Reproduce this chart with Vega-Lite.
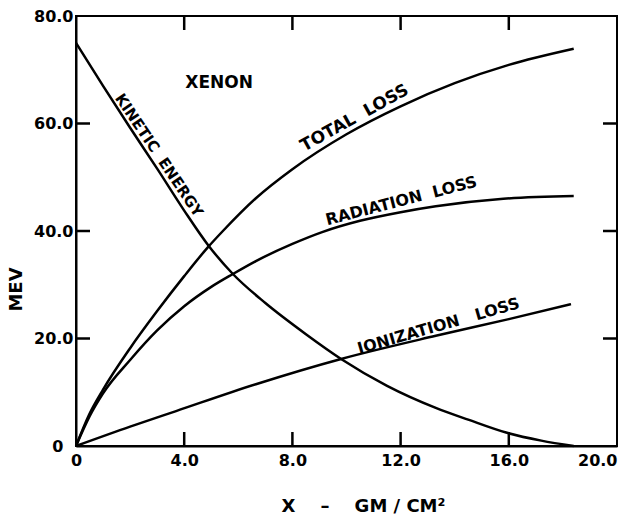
{
  "$schema": "https://vega.github.io/schema/vega-lite/v6.json",
  "autosize": {"type": "none"},
  "padding": {"left": 76, "top": 16, "right": 10, "bottom": 75},
  "width": 541,
  "height": 430,
  "background": "white",
  "config": {
    "view": {"stroke": "black", "strokeWidth": 2},
    "font": "DejaVu Sans",
    "axis": {
      "domainColor": "black", "domainWidth": 2, "tickColor": "black", "tickWidth": 2,
      "labelColor": "black", "labelFont": "DejaVu Sans", "labelFontWeight": "bold", "labelFontSize": 16,
      "titleColor": "black", "titleFont": "DejaVu Sans", "titleFontWeight": "bold", "titleFontSize": 17,
      "grid": false
    }
  },
  "datasets": {
    "curves": [
      {"series": "kinetic", "x": 0, "y": 75}, {"series": "kinetic", "x": 1, "y": 67}, {"series": "kinetic", "x": 2, "y": 59.2},
      {"series": "kinetic", "x": 3, "y": 51.6}, {"series": "kinetic", "x": 4, "y": 43.8}, {"series": "kinetic", "x": 4.88, "y": 37.4},
      {"series": "kinetic", "x": 5.8, "y": 32}, {"series": "kinetic", "x": 7, "y": 26.6}, {"series": "kinetic", "x": 8.5, "y": 20.8},
      {"series": "kinetic", "x": 9.8, "y": 16.2}, {"series": "kinetic", "x": 11.5, "y": 11.2}, {"series": "kinetic", "x": 13.3, "y": 7.1},
      {"series": "kinetic", "x": 14.5, "y": 4.9}, {"series": "kinetic", "x": 15.9, "y": 2.5}, {"series": "kinetic", "x": 17.2, "y": 1.0},
      {"series": "kinetic", "x": 18.4, "y": 0},
      {"series": "total", "x": 0, "y": 0}, {"series": "total", "x": 0.5, "y": 6}, {"series": "total", "x": 1, "y": 10.5},
      {"series": "total", "x": 2, "y": 18.2}, {"series": "total", "x": 3, "y": 25.1}, {"series": "total", "x": 4, "y": 31.6},
      {"series": "total", "x": 4.88, "y": 37}, {"series": "total", "x": 5.43, "y": 40}, {"series": "total", "x": 6.65, "y": 46.1},
      {"series": "total", "x": 8, "y": 51.5}, {"series": "total", "x": 10, "y": 58}, {"series": "total", "x": 12, "y": 63.2},
      {"series": "total", "x": 14, "y": 67.5}, {"series": "total", "x": 16, "y": 70.9}, {"series": "total", "x": 18.4, "y": 73.9},
      {"series": "radiation", "x": 0, "y": 0}, {"series": "radiation", "x": 0.5, "y": 5.5}, {"series": "radiation", "x": 1, "y": 9.8},
      {"series": "radiation", "x": 2, "y": 16}, {"series": "radiation", "x": 3, "y": 21.5}, {"series": "radiation", "x": 4, "y": 26},
      {"series": "radiation", "x": 5, "y": 29.6}, {"series": "radiation", "x": 5.8, "y": 32}, {"series": "radiation", "x": 6.65, "y": 34.4},
      {"series": "radiation", "x": 8, "y": 37.6}, {"series": "radiation", "x": 9.1, "y": 39.8}, {"series": "radiation", "x": 10.5, "y": 41.9},
      {"series": "radiation", "x": 12, "y": 43.5}, {"series": "radiation", "x": 13.3, "y": 44.6}, {"series": "radiation", "x": 15.8, "y": 46},
      {"series": "radiation", "x": 18.4, "y": 46.5},
      {"series": "ionization", "x": 0, "y": 0}, {"series": "ionization", "x": 2, "y": 3.6}, {"series": "ionization", "x": 3.7, "y": 6.5},
      {"series": "ionization", "x": 6.65, "y": 11.5}, {"series": "ionization", "x": 9.8, "y": 16.2}, {"series": "ionization", "x": 13.3, "y": 20.5},
      {"series": "ionization", "x": 16, "y": 23.6}, {"series": "ionization", "x": 18.3, "y": 26.4}
    ],
    "xticks_bottom": [{"v": 4, "at": 0}, {"v": 8, "at": 0}, {"v": 12, "at": 0}, {"v": 16, "at": 0}],
    "xticks_top": [{"v": 4, "at": 80}, {"v": 8, "at": 80}, {"v": 12, "at": 80}, {"v": 16, "at": 80}],
    "yticks_left": [{"v": 20, "at": 0}, {"v": 40, "at": 0}, {"v": 60, "at": 0}],
    "yticks_right": [{"v": 20, "at": 20}, {"v": 40, "at": 20}, {"v": 60, "at": 20}]
  },
  "resolve": {"axis": {"x": "independent", "y": "independent"}},
  "layer": [
    {
      "data": {"name": "curves"},
      "mark": {"type": "line", "color": "black", "strokeWidth": 2.5, "interpolate": "monotone"},
      "encoding": {
        "x": {"field": "x", "type": "quantitative", "scale": {"domain": [0, 20], "nice": false, "zero": false},
          "axis": {"orient": "bottom", "values": [0, 4, 8, 12, 16, 20], "ticks": false, "tickSize": 0, "labelPadding": 6, "labelFlush": false,
            "labelAlign": {"condition": {"test": "datum.value == 20", "value": "right"}, "value": "center"},
            "labelExpr": "datum.value == 0 ? '0' : format(datum.value, '.1f')",
            "title": "X\u00a0\u00a0\u00a0\u00a0–\u00a0\u00a0\u00a0\u00a0GM / CM²", "titleX": 287, "titleY": 60, "titleBaseline": "middle", "titleFontSize": 18}},
        "y": {"field": "y", "type": "quantitative", "scale": {"domain": [0, 80], "nice": false},
          "axis": {"orient": "left", "values": [0, 20, 40, 60, 80], "ticks": false, "tickSize": 0, "labelFlush": false,
            "labelPadding": {"condition": {"test": "datum.value == 0", "value": 13}, "value": 3},
            "labelExpr": "datum.value == 0 ? '0' : format(datum.value, '.1f')",
            "title": "MEV", "titleAngle": -90, "titleX": -60, "titleY": 273, "titleAlign": "center", "titleBaseline": "middle", "titleFontSize": 18}},
        "detail": {"field": "series"}
      }
    },
    {
      "data": {"name": "xticks_bottom"},
      "mark": {"type": "tick", "orient": "vertical", "size": 14, "thickness": 2.5, "color": "black", "opacity": 1, "yOffset": -7},
      "encoding": {"x": {"field": "v", "type": "quantitative", "axis": null}, "y": {"field": "at", "type": "quantitative", "axis": null}}
    },
    {
      "data": {"name": "xticks_top"},
      "mark": {"type": "tick", "orient": "vertical", "size": 14, "thickness": 2.5, "color": "black", "opacity": 1, "yOffset": 7},
      "encoding": {"x": {"field": "v", "type": "quantitative", "axis": null}, "y": {"field": "at", "type": "quantitative", "axis": null}}
    },
    {
      "data": {"name": "yticks_left"},
      "mark": {"type": "tick", "orient": "horizontal", "size": 14, "thickness": 2.5, "color": "black", "opacity": 1, "xOffset": 7},
      "encoding": {"y": {"field": "v", "type": "quantitative", "axis": null}, "x": {"field": "at", "type": "quantitative", "axis": null}}
    },
    {
      "data": {"name": "yticks_right"},
      "mark": {"type": "tick", "orient": "horizontal", "size": 14, "thickness": 2.5, "color": "black", "opacity": 1, "xOffset": -7},
      "encoding": {"y": {"field": "v", "type": "quantitative", "axis": null}, "x": {"field": "at", "type": "quantitative", "axis": null}}
    },
    {
      "data": {"values": [{"x": 5.29, "y": 67.5, "label": "XENON"}]},
      "mark": {"type": "text", "font": "DejaVu Sans", "fontWeight": "bold", "fontSize": 17, "align": "center", "baseline": "middle", "color": "black"},
      "encoding": {"x": {"field": "x", "type": "quantitative", "axis": null}, "y": {"field": "y", "type": "quantitative", "axis": null}, "text": {"field": "label"}}
    },
    {
      "data": {"values": [{"x": 3.07, "y": 54.1, "label": "KINETIC\u00a0\u00a0ENERGY"}]},
      "mark": {"type": "text", "font": "DejaVu Sans", "fontWeight": "bold", "fontSize": 15, "align": "center", "baseline": "middle", "angle": 56, "color": "black"},
      "encoding": {"x": {"field": "x", "type": "quantitative", "axis": null}, "y": {"field": "y", "type": "quantitative", "axis": null}, "text": {"field": "label"}}
    },
    {
      "data": {"values": [{"x": 10.3, "y": 61, "label": "TOTAL\u00a0\u00a0LOSS"}]},
      "mark": {"type": "text", "font": "DejaVu Sans", "fontWeight": "bold", "fontSize": 17, "align": "center", "baseline": "middle", "angle": -29, "color": "black"},
      "encoding": {"x": {"field": "x", "type": "quantitative", "axis": null}, "y": {"field": "y", "type": "quantitative", "axis": null}, "text": {"field": "label"}}
    },
    {
      "data": {"values": [{"x": 12.03, "y": 45.6, "label": "RADIATION\u00a0\u00a0LOSS"}]},
      "mark": {"type": "text", "font": "DejaVu Sans", "fontWeight": "bold", "fontSize": 16, "align": "center", "baseline": "middle", "angle": -14.5, "color": "black"},
      "encoding": {"x": {"field": "x", "type": "quantitative", "axis": null}, "y": {"field": "y", "type": "quantitative", "axis": null}, "text": {"field": "label"}}
    },
    {
      "data": {"values": [{"x": 13.4, "y": 22.3, "label": "IONIZATION\u00a0\u00a0\u00a0LOSS"}]},
      "mark": {"type": "text", "font": "DejaVu Sans", "fontWeight": "bold", "fontSize": 16, "align": "center", "baseline": "middle", "angle": -16, "color": "black"},
      "encoding": {"x": {"field": "x", "type": "quantitative", "axis": null}, "y": {"field": "y", "type": "quantitative", "axis": null}, "text": {"field": "label"}}
    }
  ]
}
